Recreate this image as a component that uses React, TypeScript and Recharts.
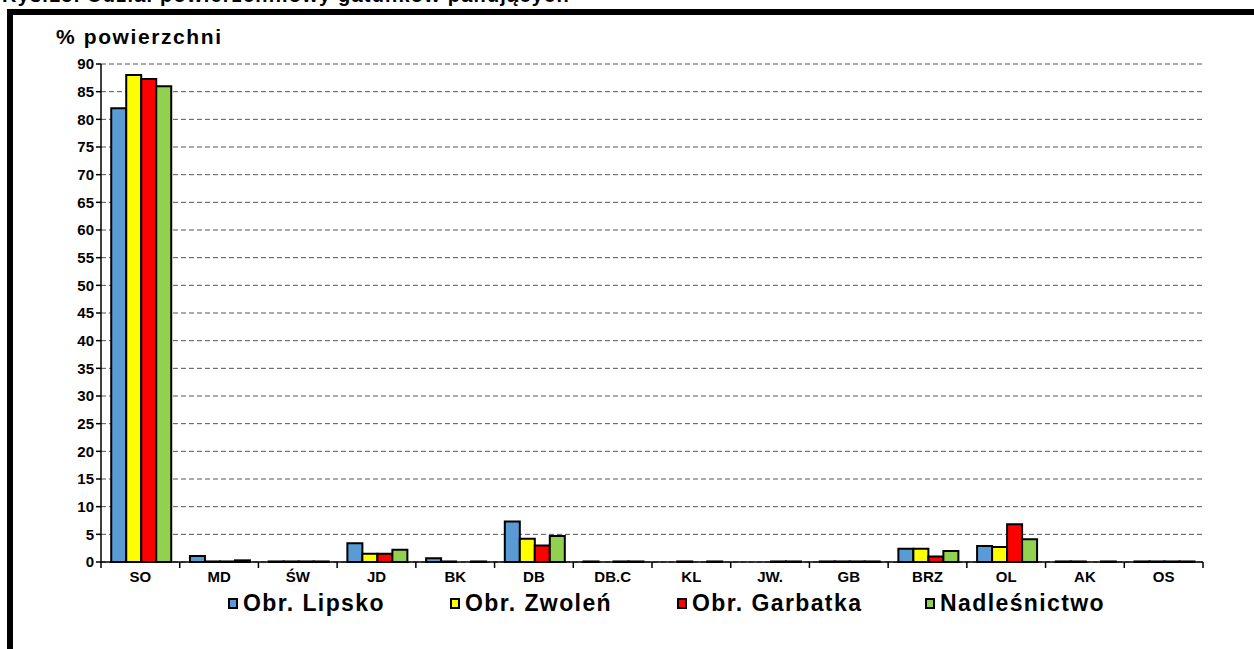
import React from 'react';
import { BarChart, Bar, XAxis, YAxis, CartesianGrid, Legend } from 'recharts';

const categories = ['SO', 'MD', 'ŚW', 'JD', 'BK', 'DB', 'DB.C', 'KL', 'JW.', 'GB', 'BRZ', 'OL', 'AK', 'OS'];
const lipsko = [82, 1.1, 0.1, 3.4, 0.7, 7.3, 0.1, 0, 0, 0.1, 2.4, 2.9, 0.1, 0.1];
const zwolen = [88, 0.1, 0.1, 1.5, 0.1, 4.2, 0, 0.1, 0, 0.1, 2.4, 2.7, 0.1, 0.1];
const garbatka = [87.3, 0.1, 0.1, 1.5, 0, 3.0, 0.1, 0, 0.1, 0.1, 1.0, 6.8, 0, 0.1];
const nadlesnictwo = [86, 0.3, 0.1, 2.2, 0.1, 4.7, 0.1, 0.1, 0.1, 0.1, 2.0, 4.1, 0.1, 0.1];
const yTicks = [0, 5, 10, 15, 20, 25, 30, 35, 40, 45, 50, 55, 60, 65, 70, 75, 80, 85, 90];

const seriesNames = ['Obr. Lipsko', 'Obr. Zwoleń', 'Obr. Garbatka', 'Nadleśnictwo'];
const seriesKeys = ['lipsko', 'zwolen', 'garbatka', 'nadl'];
const seriesColors = ['#5B9BD5', '#FFFF00', '#FF0000', '#92D050'];
const legendLeft = [228, 450, 677, 925];

const data = categories.map((c, i) => ({
  name: c,
  lipsko: lipsko[i],
  zwolen: zwolen[i],
  garbatka: garbatka[i],
  nadl: nadlesnictwo[i],
}));

const XTick = (props: any) => {
  const { x, y, payload, index } = props;
  const half = payload && payload.offset ? payload.offset : 39.4;
  const axisY = y - 8;
  return (
    <g>
      {index === 0 && <line x1={x - half} x2={x - half} y1={axisY} y2={axisY + 6} stroke="#000" strokeWidth={1.5} />}
      <line x1={x + half} x2={x + half} y1={axisY} y2={axisY + 6} stroke="#000" strokeWidth={1.5} />
      <text x={x} y={axisY + 20} textAnchor="middle" fontSize={15} fontWeight="bold" fill="#000" fontFamily="Arial, Liberation Sans, sans-serif">
        {payload.value}
      </text>
    </g>
  );
};

const LegendContent = () => (
  <div style={{ position: 'relative', width: 1254, height: 30 }}>
    {seriesNames.map((n, i) => (
      <div key={n} style={{ position: 'absolute', left: legendLeft[i], top: 0, display: 'flex', alignItems: 'center' }}>
        <span style={{ display: 'inline-block', width: 6, height: 7, background: seriesColors[i], border: '2px solid #000', marginRight: 5 }} />
        <span style={{ fontSize: 23, fontWeight: 'bold', letterSpacing: 1.4, color: '#000', fontFamily: 'Arial, Liberation Sans, sans-serif', lineHeight: '26px' }}>{n}</span>
      </div>
    ))}
  </div>
);

export default function App() {
  return (
    <div style={{ position: 'absolute', left: 0, top: 0, width: 1254, height: 649, overflow: 'hidden', background: '#fff', fontFamily: 'Arial, Liberation Sans, sans-serif' }}>
      <div style={{ position: 'absolute', left: 2, top: -16, fontSize: 20, fontWeight: 'bold', whiteSpace: 'nowrap', letterSpacing: 1.2 }}>
        Rys.15. Udział powierzchniowy gatunków panujących
      </div>
      <div style={{ position: 'absolute', left: 7, top: 9, width: 1400, height: 800, borderLeft: '6px solid #000', borderTop: '6px solid #000' }} />
      <div style={{ position: 'absolute', left: 56, top: 25, fontSize: 21, fontWeight: 'bold', letterSpacing: 1.6, whiteSpace: 'nowrap' }}>% powierzchni</div>
      <div style={{ position: 'absolute', left: 0, top: 0 }}>
        <BarChart width={1254} height={649} data={data} margin={{ top: 64, right: 51, bottom: 27, left: 0 }} barCategoryGap="13%" barGap={0}>
          <CartesianGrid vertical={false} stroke="#555" strokeDasharray="5 3" />
          <XAxis dataKey="name" interval={0} tickLine={false} axisLine={{ stroke: '#000', strokeWidth: 1.5 }} tick={<XTick />} height={30} />
          <YAxis
            width={101}
            domain={[0, 90]}
            ticks={yTicks}
            interval={0}
            tickSize={5}
            tickLine={{ stroke: '#000', strokeWidth: 1.5 }}
            axisLine={{ stroke: '#000', strokeWidth: 1.5 }}
            tick={{ fontSize: 15, fontWeight: 'bold', fill: '#000', fontFamily: 'Arial, Liberation Sans, sans-serif' }}
          />
          <Legend content={<LegendContent />} wrapperStyle={{ position: 'absolute', left: 0, top: 590, width: 1254 }} />
          {seriesKeys.map((k, i) => (
            <Bar key={k} dataKey={k} name={seriesNames[i]} fill={seriesColors[i]} stroke="#000" strokeWidth={2} isAnimationActive={false} />
          ))}
        </BarChart>
      </div>
    </div>
  );
}
